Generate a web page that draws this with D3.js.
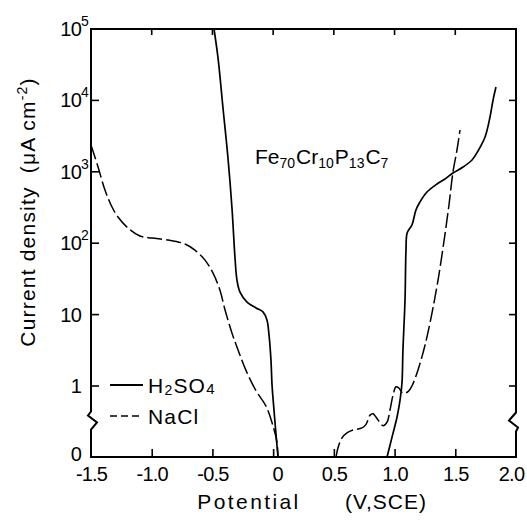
<!DOCTYPE html>
<html>
<head>
<meta charset="utf-8">
<script src="https://cdn.jsdelivr.net/npm/d3@7"></script>
<style>
  html, body { margin: 0; padding: 0; background: #fff; }
  svg { display: block; }
  text { font-family: "Liberation Sans", Arial, sans-serif; fill: #000; }
</style>
</head>
<body>
<svg id="chart" width="527" height="521"></svg>
<script>
// ---- data (potential in V vs SCE, current density in µA cm^-2) ----
const h2so4CathodicE = [-0.487, -0.454, -0.413, -0.372, -0.339, -0.314, -0.298, -0.273, -0.215, -0.141, -0.084, -0.051, -0.034, -0.018, -0.009, 0.007, 0.024, 0.040];
const h2so4CathodicI = [100000, 39300, 7830, 1560, 311, 62, 30.5, 20.7, 15.0, 12.4, 10.9, 8.4, 5.2, 2.3, 1.03, 0.66, 0.31, 0];
const h2so4AnodicE = [0.938, 0.979, 1.020, 1.045, 1.061, 1.069, 1.086, 1.094, 1.104, 1.143, 1.176, 1.209, 1.267, 1.349, 1.415, 1.481, 1.564, 1.638, 1.687, 1.745, 1.786, 1.811, 1.835];
const h2so4AnodicI = [0, 0.28, 0.56, 0.80, 1.1, 3.2, 16, 80, 140, 180, 292, 378, 521, 675, 793, 962, 1167, 1463, 1955, 3070, 5860, 10100, 15400];

const naclCathodicE = [-1.500, -1.442, -1.385, -1.327, -1.278, -1.195, -1.097, -0.998, -0.866, -0.726, -0.644, -0.561, -0.495, -0.438, -0.396, -0.339, -0.289, -0.220, -0.140, -0.060, -0.012, 0.030, 0.040];
const naclCathodicI = [2370, 1170, 556, 321, 233, 163, 126, 118, 111, 97.5, 80, 58, 38, 22, 11.6, 5.5, 3.2, 1.6, 0.93, 0.72, 0.50, 0.22, 0];
const naclAnodicE = [0.518, 0.534, 0.567, 0.608, 0.658, 0.732, 0.765, 0.798, 0.822, 0.864, 0.905, 0.938, 0.962, 0.987, 1.012, 1.036, 1.069, 1.111, 1.143, 1.193, 1.251, 1.308, 1.358, 1.407, 1.448, 1.481, 1.514, 1.539];
const naclAnodicI = [0, 0.13, 0.27, 0.34, 0.38, 0.41, 0.46, 0.59, 0.61, 0.52, 0.44, 0.49, 0.66, 0.87, 0.99, 0.97, 0.90, 0.92, 1.0, 1.68, 3.75, 10.5, 30.5, 107, 343, 993, 2020, 3850];

const xTickValues = [-1.5, -1.0, -0.5, 0, 0.5, 1.0, 1.5, 2.0];
const xTickLabels = ["-1.5", "-1.0", "-0.5", "0", "0.5", "1.0", "1.5", "2.0"];
const yTickValues = [0, 1, 10, 100, 1000, 10000, 100000];
const yTickBase = ["0", "1", "10", "10", "10", "10", "10"];
const yTickExp = ["", "", "", "2", "3", "4", "5"];

// ---- scales ----
const x = d3.scaleLinear().domain([-1.5, 2.0]).range([91, 516]);
const yLog = d3.scaleLog().domain([1, 1e5]).range([386, 29]);
const yLin = d3.scaleLinear().domain([0, 1]).range([457, 386]);
const y = v => (v >= 1 ? yLog(v) : yLin(v));

const svg = d3.select("#chart");
const pL = x.range()[0], pR = x.range()[1];
const pT = yLog.range()[1], pB = yLin.range()[0];

// ---- frame with axis breaks ----
const yBreak = (yLin(1) + yLin(0)) / 2 - 1;
svg.append("path")
  .attr("d", `M${pL},${pT} L${pR},${pT} L${pR},${yBreak - 8} L${pR - 7},${yBreak} L${pR + 2},${yBreak + 7} L${pR},${yBreak + 11} L${pR},${pB} L${pL},${pB} L${pL},${yBreak + 9} L${pL + 6},${yBreak + 2} L${pL - 3},${yBreak - 5} L${pL},${yBreak - 9} Z`)
  .attr("fill", "none").attr("stroke", "#000").attr("stroke-width", 2).attr("stroke-linejoin", "miter");

// x ticks bottom (inward) and top
const xAxis = d3.axisBottom(x).tickValues(xTickValues).tickSize(-8).tickPadding(10)
  .tickFormat((d, i) => xTickLabels[i]);
const gx = svg.append("g").attr("transform", `translate(0,${pB})`).call(xAxis);
gx.select(".domain").remove();
gx.selectAll(".tick line").attr("stroke-width", 1.6);
gx.selectAll(".tick text").attr("font-size", 20).attr("font-family", "Liberation Sans, Arial, sans-serif").attr("letter-spacing", -0.8);
gx.selectAll(".tick").filter(d => d === 0).select("text").attr("dx", 4);
gx.selectAll(".tick").filter(d => d === 2.0).select("text").attr("dx", -5);
gx.selectAll(".tick").filter(d => d === -1.5 || d === 2.0).select("line").remove();

svg.append("g").selectAll("line").data(xTickValues.slice(1, -1)).join("line")
  .attr("x1", d => x(d)).attr("x2", d => x(d)).attr("y1", pT).attr("y2", pT + 6)
  .attr("stroke", "#000").attr("stroke-width", 1.6);

// y ticks left/right (inward)
const yTicksIn = yTickValues.filter(v => v >= 1 && v < 1e5);
svg.append("g").selectAll("line").data(yTicksIn).join("line")
  .attr("x1", pL).attr("x2", pL + 8).attr("y1", d => y(d)).attr("y2", d => y(d))
  .attr("stroke", "#000").attr("stroke-width", 1.6);
svg.append("g").selectAll("line").data(yTicksIn).join("line")
  .attr("x1", pR).attr("x2", pR - 7).attr("y1", d => y(d)).attr("y2", d => y(d))
  .attr("stroke", "#000").attr("stroke-width", 1.6);

// y tick labels: base right-aligned, exponent just to its right
const ylab = svg.append("g");
ylab.selectAll("text.base").data(yTickValues).join("text").attr("class", "base")
  .attr("x", 81)
  .attr("y", d => y(d) + (d === 0 ? 4 : 7))
  .attr("text-anchor", "end")
  .attr("font-size", 20)
  .attr("letter-spacing", -0.8)
  .text((d, i) => yTickBase[i]);
ylab.selectAll("text.exp").data(yTickValues.filter((d, i) => yTickExp[i] !== "")).join("text").attr("class", "exp")
  .attr("x", 81)
  .attr("y", d => y(d) - 3)
  .attr("font-size", 14)
  .text(d => yTickExp[yTickValues.indexOf(d)]);

// ---- curves ----
const line = d3.line().x(d => x(d[0])).y(d => y(d[1])).curve(d3.curveCatmullRom.alpha(0.5));
const zip = (a, b) => a.map((v, i) => [v, b[i]]);

svg.append("path").datum(zip(h2so4CathodicE, h2so4CathodicI)).attr("d", line)
  .attr("fill", "none").attr("stroke", "#000").attr("stroke-width", 1.7);
svg.append("path").datum(zip(h2so4AnodicE, h2so4AnodicI)).attr("d", line)
  .attr("fill", "none").attr("stroke", "#000").attr("stroke-width", 1.7);
svg.append("path").datum(zip(naclCathodicE, naclCathodicI)).attr("d", line)
  .attr("fill", "none").attr("stroke", "#000").attr("stroke-width", 1.5).attr("stroke-dasharray", "15,4");
svg.append("path").datum(zip(naclAnodicE, naclAnodicI)).attr("d", line)
  .attr("fill", "none").attr("stroke", "#000").attr("stroke-width", 1.5).attr("stroke-dasharray", "15,4");

// ---- legend ----
const lg = svg.append("g");
lg.append("line").attr("x1", 110).attr("x2", 143).attr("y1", 385).attr("y2", 385)
  .attr("stroke", "#000").attr("stroke-width", 1.8);
lg.append("line").attr("x1", 110).attr("x2", 143).attr("y1", 416).attr("y2", 416)
  .attr("stroke", "#000").attr("stroke-width", 1.5).attr("stroke-dasharray", "7,4");
const t1 = lg.append("text").attr("x", 148).attr("y", 393).attr("font-size", 21).attr("letter-spacing", 1.2);
t1.append("tspan").text("H");
t1.append("tspan").attr("font-size", 14).attr("dy", 2).text("2");
t1.append("tspan").attr("dy", -2).text("SO");
t1.append("tspan").attr("font-size", 15).attr("dy", 1).text("4");
lg.append("text").attr("x", 148).attr("y", 424).attr("font-size", 21).attr("letter-spacing", 1.2).text("NaCl");

// ---- composition annotation ----
const ann = svg.append("text").attr("x", 255).attr("y", 164).attr("font-size", 21);
const parts = [["Fe", "70"], ["Cr", "10"], ["P", "13"], ["C", "7"]];
parts.forEach((p, i) => {
  ann.append("tspan").attr("dy", i === 0 ? 0 : -4).attr("dx", i === 0 ? 0 : 1).text(p[0]);
  ann.append("tspan").attr("font-size", 14).attr("dy", 4).text(p[1]);
});

// ---- axis titles ----
svg.append("text").attr("x", 249).attr("y", 509).attr("text-anchor", "middle")
  .attr("font-size", 21).attr("letter-spacing", 2.4).text("Potential");
svg.append("text").attr("x", 386).attr("y", 509).attr("text-anchor", "middle")
  .attr("font-size", 21).attr("letter-spacing", 1).text("(V,SCE)");

const yt = svg.append("text").attr("transform", "translate(35,212) rotate(-90)")
  .attr("text-anchor", "middle").attr("font-size", 21).attr("letter-spacing", 1.2);
yt.append("tspan").text("Current density");
yt.append("tspan").attr("dx", 13).text("(μA cm");
yt.append("tspan").attr("font-size", 14).attr("dy", -8).text("-2");
yt.append("tspan").attr("dy", 8).text(")");
</script>
</body>
</html>
